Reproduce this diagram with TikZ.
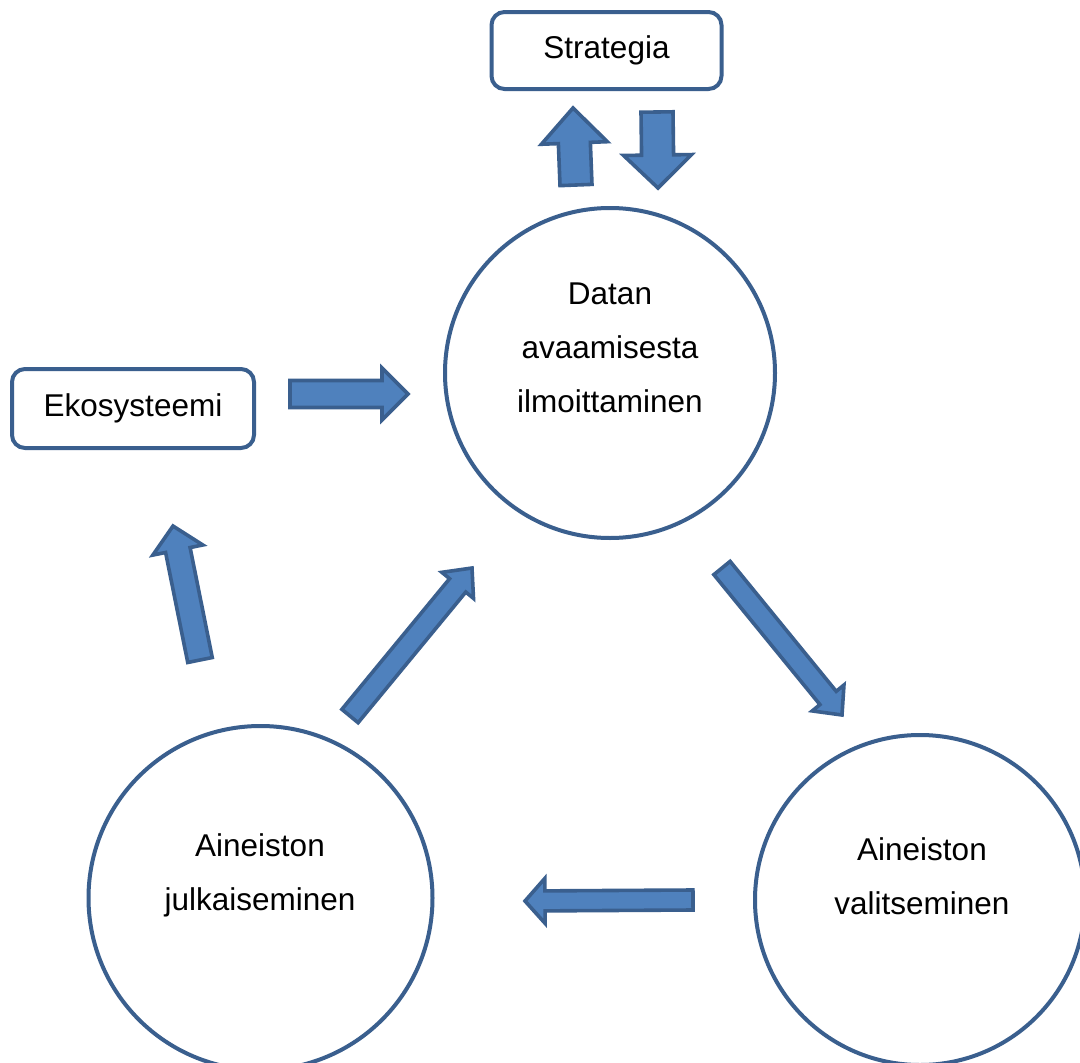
\documentclass[tikz,border=0pt]{standalone}
\usepackage{fontspec}
\setmainfont{Liberation Sans}
\usetikzlibrary{calc}
\definecolor{edgeblue}{HTML}{3A5F8E}
\definecolor{fillblue}{HTML}{4F81BD}
\newcommand\blockarrow[5]{%
  \coordinate (ba-h) at ($(#2)!#5!(#1)$);
  \draw[blk] ($(#1)!#3!90:(#2)$) -- ($(ba-h)!#3!-90:(#1)$) -- ($(ba-h)!#4!-90:(#1)$)
    -- (#2) -- ($(ba-h)!#4!90:(#1)$) -- ($(ba-h)!#3!90:(#1)$) -- ($(#1)!#3!-90:(#2)$) -- cycle;}
\begin{document}
\begin{tikzpicture}[x=1pt,y=-1pt,
  every node/.style={font=\fontsize{31.5}{54}\selectfont, inner sep=0pt},
  box/.style={draw=edgeblue, line width=4pt, rounded corners=13pt, fill=white},
  ring/.style={draw=edgeblue, line width=4pt, circle, fill=white},
  txt/.style={align=center},
  blk/.style={draw=edgeblue, fill=fillblue, line width=3.6pt, line join=miter}]
\useasboundingbox (0,0) rectangle (1080,1063);
\fill[white] (0,0) rectangle (1080,1063);
\clip (0,0) rectangle (1080,1063);
% boxes
\node[box, minimum width=230pt, minimum height=77pt] (strat) at (606.5,50.5) {Strategia};
\node[box, minimum width=242pt, minimum height=79pt] (eko) at (133,408.5) {Ekosysteemi};
% circles
\node[ring, minimum size=330pt] (datan) at (610,373) {};
\node[ring, minimum size=344pt] (julk) at (260.5,898) {};
\node[ring, minimum size=330pt] (valit) at (920,900) {};
\node[txt] (datan-t) at (610,348) {Datan\\avaamisesta\\ilmoittaminen};
\node[txt] (julk-t) at (260,875) {Aineiston\\julkaiseminen};
\node[txt] (valit-t) at (922,876) {Aineiston\\valitseminen};
% arrow end points
\coordinate (a1s) at (576,185); \coordinate (a1t) at (573,108);
\coordinate (a2s) at (657,112); \coordinate (a2t) at (658,188);
\coordinate (a3s) at (290,394); \coordinate (a3t) at (408,394);
\coordinate (a4s) at (200,660); \coordinate (a4t) at (173,526);
\coordinate (a5s) at (722,568); \coordinate (a5t) at (842,715);
\coordinate (a6s) at (693,900); \coordinate (a6t) at (525,901);
\coordinate (a7s) at (350,716); \coordinate (a7t) at (472,568);
\blockarrow{a1s}{a1t}{16pt}{33pt}{35pt}
\blockarrow{a2s}{a2t}{16pt}{34pt}{33pt}
\blockarrow{a3s}{a3t}{13.5pt}{26pt}{26pt}
\blockarrow{a4s}{a4t}{12.5pt}{25.5pt}{24.5pt}
\blockarrow{a5s}{a5t}{10.5pt}{20.5pt}{22pt}
\blockarrow{a6s}{a6t}{10pt}{22.5pt}{20pt}
\blockarrow{a7s}{a7t}{10.5pt}{20.5pt}{22.5pt}
\end{tikzpicture}
\end{document}
